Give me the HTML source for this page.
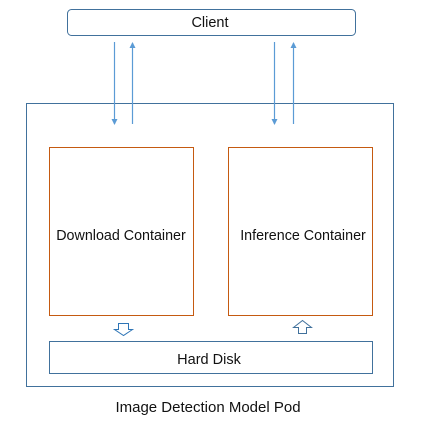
<!DOCTYPE html>
<html><head><style>body{margin:0;background:#fff}</style></head><body>
<svg width="426" height="426" xmlns="http://www.w3.org/2000/svg" font-family="Liberation Sans, sans-serif">
<defs><marker id="a" markerWidth="6" markerHeight="6" refX="5" refY="3" orient="auto" markerUnits="userSpaceOnUse"><path d="M0,0 L6,3 L0,6z" fill="#5b9bd5"/></marker></defs>
<rect x="67.5" y="9.5" width="288" height="26" rx="4" fill="#fff" stroke="#41719c"/>
<text x="210" y="27" font-size="14.5" text-anchor="middle" fill="#111">Client</text>
<rect x="26.5" y="103.5" width="367" height="283" fill="none" stroke="#41719c"/>
<g stroke="#5b9bd5" stroke-width="1.2">
<line x1="114.5" y1="42" x2="114.5" y2="124" marker-end="url(#a)"/>
<line x1="132.5" y1="124" x2="132.5" y2="43" marker-end="url(#a)"/>
<line x1="274.5" y1="42" x2="274.5" y2="124" marker-end="url(#a)"/>
<line x1="293.5" y1="124" x2="293.5" y2="43" marker-end="url(#a)"/>
</g>
<rect x="49.5" y="147.5" width="144" height="168" fill="#fff" stroke="#c55a11"/>
<text x="121" y="240" font-size="14.3" text-anchor="middle" fill="#111">Download Container</text>
<rect x="228.5" y="147.5" width="144" height="168" fill="#fff" stroke="#c55a11"/>
<text x="303" y="240" font-size="14.3" text-anchor="middle" fill="#111">Inference Container</text>
<path d="M118.5,323.5 H128.5 V329.5 H132.5 L123.5,335.5 L114.5,329.5 H118.5Z" fill="#fff" stroke="#2e75b6"/>
<path d="M298.5,333.5 H306.5 V327.5 H311.5 L302.5,320.5 L293.5,327.5 H298.5Z" fill="#fff" stroke="#41719c"/>
<rect x="49.5" y="341.5" width="323" height="32" fill="#fff" stroke="#41719c"/>
<text x="209" y="364" font-size="14.5" text-anchor="middle" fill="#111">Hard Disk</text>
<text x="208" y="412" font-size="15" text-anchor="middle" fill="#111">Image Detection Model Pod</text>
</svg>
</body></html>
